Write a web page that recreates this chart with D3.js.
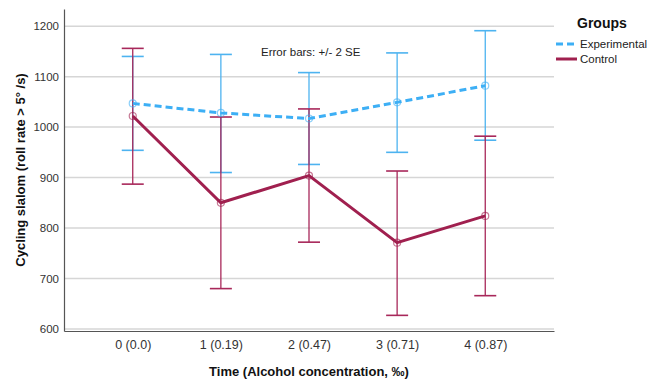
<!DOCTYPE html>
<html>
<head>
<meta charset="utf-8">
<script src="https://cdn.jsdelivr.net/npm/d3@7"></script>
<style>
  body { margin: 0; background: #fff; }
  text { font-family: "Liberation Sans", Arial, sans-serif; }
</style>
</head>
<body>
<div id="chart"></div>
<script>
// -------------------- DATA --------------------
const times = ["0 (0.0)", "1 (0.19)", "2 (0.47)", "3 (0.71)", "4 (0.87)"];
const yTicks = [600, 700, 800, 900, 1000, 1100, 1200];

const expMean  = [1047, 1028, 1017, 1049, 1082];
const expUpper = [1140, 1144, 1108, 1147, 1191];
const expLower = [954, 910, 926, 950, 974];

const ctlMean  = [1022, 850, 904, 771, 824];
const ctlUpper = [1156, 1020, 1036, 913, 982];
const ctlLower = [887, 680, 772, 627, 666];

const groups = [
  { name: "Experimental", mean: expMean, upper: expUpper, lower: expLower, color: "#3daff5", barColor: "#4db3f0", dash: "7,4" },
  { name: "Control", mean: ctlMean, upper: ctlUpper, lower: ctlLower, color: "#a0204f", barColor: "#a8285a", dash: null }
];

const W = 657, H = 386;
const margin = { top: 9, right: 103, bottom: 55, left: 64 };
const width = W - margin.left - margin.right;
const height = H - margin.top - margin.bottom;

const svg = d3.select("#chart").append("svg")
  .attr("width", W).attr("height", H);

const g = svg.append("g")
  .attr("transform", `translate(${margin.left},${margin.top})`);

const x = d3.scalePoint().domain(times).range([0, width]).padding(0.78);
const y = d3.scaleLinear().domain([596, 1234]).range([height, 0]);

// grid
g.selectAll(".grid").data(yTicks).enter().append("line")
  .attr("x1", 0).attr("x2", width)
  .attr("y1", d => y(d)).attr("y2", d => y(d))
  .attr("stroke", "#d6d6d6").attr("stroke-width", 1.5);

// axes
const yAxis = g.append("g").call(d3.axisLeft(y).tickValues(yTicks).tickFormat(d3.format("d")).tickSize(0).tickPadding(5));
yAxis.select(".domain").attr("stroke", "#555").attr("stroke-width", 1.2);
yAxis.selectAll("text").attr("font-size", 11.5).attr("fill", "#333");

const xAxis = g.append("g").attr("transform", `translate(0,${height})`)
  .call(d3.axisBottom(x).tickSize(0).tickPadding(9));
xAxis.select(".domain").attr("stroke", "#555").attr("stroke-width", 1.2);
xAxis.selectAll("text").attr("font-size", 12.5).attr("fill", "#333");

// error bars + lines
const cap = 11;
groups.forEach(gr => {
  const eb = g.append("g");
  times.forEach((t, i) => {
    const cx = x(t);
    eb.append("line").attr("x1", cx).attr("x2", cx)
      .attr("y1", y(gr.upper[i])).attr("y2", y(gr.lower[i]))
      .attr("stroke", gr.barColor).attr("stroke-width", 1.3);
    [gr.upper[i], gr.lower[i]].forEach(v => {
      eb.append("line").attr("x1", cx - cap).attr("x2", cx + cap)
        .attr("y1", y(v)).attr("y2", y(v))
        .attr("stroke", gr.barColor).attr("stroke-width", 1.6);
    });
  });
});

groups.forEach(gr => {
  const line = d3.line().x((d, i) => x(times[i])).y(d => y(d));
  g.append("path").datum(gr.mean)
    .attr("fill", "none").attr("stroke", gr.color).attr("stroke-width", 3)
    .attr("stroke-dasharray", gr.dash)
    .attr("d", line);
  g.selectAll(null).data(gr.mean).enter().append("circle")
    .attr("cx", (d, i) => x(times[i])).attr("cy", d => y(d)).attr("r", 3.5)
    .attr("fill", "none").attr("stroke", gr.color).attr("stroke-width", 1.2).attr("opacity", 0.6);
});

// annotation
svg.append("text").attr("x", 261).attr("y", 56)
  .attr("font-size", 11.5).attr("fill", "#222").text("Error bars:  +/- 2 SE");

// axis titles
svg.append("text")
  .attr("transform", `translate(25,${margin.top + height / 2}) rotate(-90)`)
  .attr("text-anchor", "middle").attr("font-size", 13).attr("font-weight", "bold")
  .attr("fill", "#111").text("Cycling slalom (roll rate > 5° /s)");

svg.append("text")
  .attr("x", margin.left + width / 2).attr("y", 376)
  .attr("text-anchor", "middle").attr("font-size", 13).attr("font-weight", "bold")
  .attr("fill", "#111").text("Time (Alcohol concentration, ‰)");

// legend
svg.append("text").attr("x", 577).attr("y", 28)
  .attr("font-size", 14).attr("font-weight", "bold").attr("fill", "#111").text("Groups");
groups.forEach((gr, i) => {
  const ly = 44 + i * 15;
  svg.append("line").attr("x1", 556).attr("x2", 577).attr("y1", ly).attr("y2", ly)
    .attr("stroke", gr.color).attr("stroke-width", 3).attr("stroke-dasharray", gr.dash);
  svg.append("text").attr("x", 580).attr("y", ly + 4)
    .attr("font-size", 11.5).attr("fill", "#222").text(gr.name);
});
</script>
</body>
</html>
